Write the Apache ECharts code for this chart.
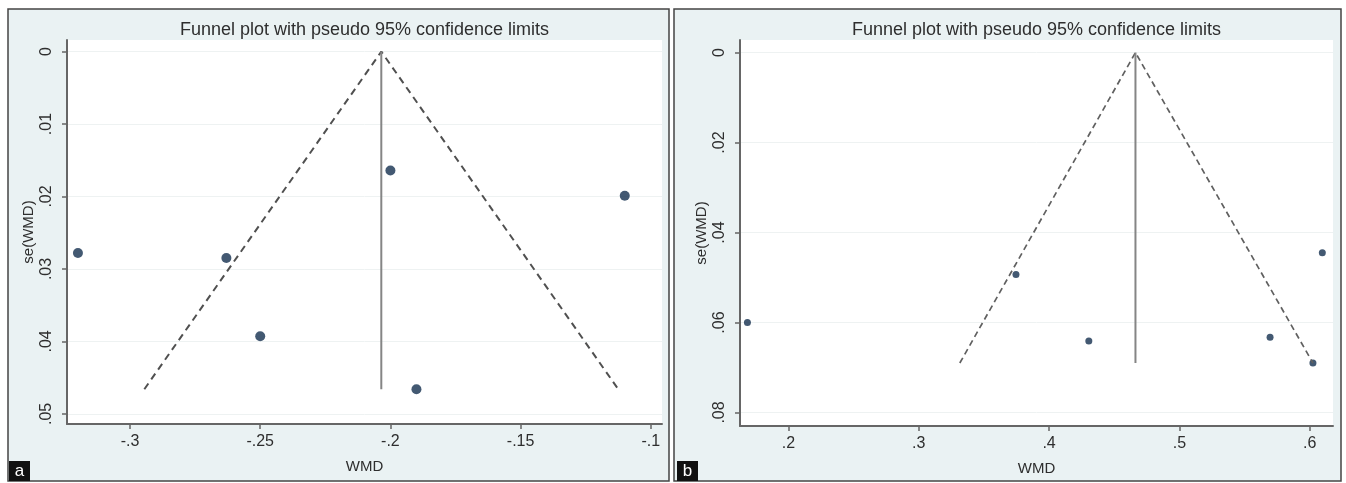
<!DOCTYPE html>
<html>
<head>
<meta charset="utf-8">
<script src="https://cdn.jsdelivr.net/npm/echarts@6/dist/echarts.min.js"></script>
<style>
html,body{margin:0;padding:0;background:#fff;}
#c{width:1346px;height:483px;}
</style>
</head>
<body>
<div id="c"></div>
<script>
// ---- Data ----
const titleText = 'Funnel plot with pseudo 95% confidence limits';

// Panel a
const aWMD = [-0.320, -0.263, -0.250, -0.200, -0.190, -0.110];
const aSE  = [0.0278, 0.0285, 0.0393, 0.0164, 0.0466, 0.0199];
const aPooled = -0.2035;
const aSEmax = 0.0466;
const aLower = -0.2945;
const aUpper = -0.1125;
const aXTicks = [-0.3, -0.25, -0.2, -0.15, -0.1];
const aXLabels = ['-.3', '-.25', '-.2', '-.15', '-.1'];
const aYTicks = [0, 0.01, 0.02, 0.03, 0.04, 0.05];
const aYLabels = ['0', '.01', '.02', '.03', '.04', '.05'];

// Panel b
const bWMD = [0.1685, 0.3746, 0.4305, 0.5696, 0.6025, 0.6097];
const bSE  = [0.0600, 0.0493, 0.0641, 0.0633, 0.0690, 0.0445];
const bPooled = 0.4663;
const bSEmax = 0.0690;
const bLower = 0.3315;
const bUpper = 0.6025;
const bXTicks = [0.2, 0.3, 0.4, 0.5, 0.6];
const bXLabels = ['.2', '.3', '.4', '.5', '.6'];
const bYTicks = [0, 0.02, 0.04, 0.06, 0.08];
const bYLabels = ['0', '.02', '.04', '.06', '.08'];

const xTitle = 'WMD';
const yTitle = 'se(WMD)';
const panelLabels = ['a', 'b'];

// ---- Styling ----
const FONT = '"Liberation Sans", Arial, Helvetica, sans-serif';
const PANEL_BG = '#eaf2f3';
const AXIS_COL = '#666666';
const TXT_COL = '#2e2e2e';
const DOT_COL = '#14304f';

function fmt(ticks, labels) {
  return function (v) {
    for (let i = 0; i < ticks.length; i++) {
      if (Math.abs(ticks[i] - v) < 1e-9) return labels[i];
    }
    return '';
  };
}

function xAxisCfg(gridIndex, min, max, ticks, labels) {
  return {
    gridIndex, type: 'value', min, max,
    name: xTitle, nameLocation: 'middle', nameGap: 35,
    nameTextStyle: { color: TXT_COL, fontFamily: FONT, fontSize: 15 },
    axisLine: { show: true, onZero: false, lineStyle: { color: AXIS_COL, width: 2 } },
    axisTick: { show: true, length: 5, customValues: ticks, lineStyle: { color: AXIS_COL, width: 1.5 } },
    axisLabel: { customValues: ticks, formatter: fmt(ticks, labels), margin: 10, color: TXT_COL, fontFamily: FONT, fontSize: 16 },
    splitLine: { show: false }
  };
}
function yAxisCfg(gridIndex, min, max, ticks, labels) {
  return {
    gridIndex, type: 'value', min, max, inverse: true,
    name: yTitle, nameLocation: 'middle', nameGap: 31, nameRotate: 90,
    nameTextStyle: { color: TXT_COL, fontFamily: FONT, fontSize: 15 },
    axisLine: { show: true, onZero: false, lineStyle: { color: AXIS_COL, width: 2 } },
    axisTick: { show: true, length: 5, customValues: ticks, lineStyle: { color: AXIS_COL, width: 1.5 } },
    axisLabel: { customValues: ticks, formatter: fmt(ticks, labels), rotate: 90, margin: 12, color: TXT_COL, fontFamily: FONT, fontSize: 16 },
    splitLine: { show: true, lineStyle: { color: '#eef2f2', width: 1 } }
  };
}

function pts(xs, ys) { return xs.map((x, i) => [x, ys[i]]); }

const chart = echarts.init(document.getElementById('c'));
const option = {
  animation: false,
  backgroundColor: '#ffffff',
  grid: [
    { left: 67, top: 40, width: 595, height: 384, show: true, backgroundColor: '#ffffff', borderWidth: 0 },
    { left: 740, top: 40, width: 593, height: 386, show: true, backgroundColor: '#ffffff', borderWidth: 0 }
  ],
  xAxis: [
    xAxisCfg(0, -0.3242, -0.0957, aXTicks, aXLabels),
    xAxisCfg(1, 0.1628, 0.6179, bXTicks, bXLabels)
  ],
  yAxis: [
    yAxisCfg(0, -0.0016, 0.0514, aYTicks, aYLabels),
    yAxisCfg(1, -0.0028, 0.0830, bYTicks, bYLabels)
  ],
  graphic: [
    { type: 'rect', z: -10, shape: { x: 8, y: 9, width: 661, height: 472 }, style: { fill: PANEL_BG, stroke: '#444', lineWidth: 1.5 } },
    { type: 'rect', z: -10, shape: { x: 674, y: 9, width: 667, height: 472 }, style: { fill: PANEL_BG, stroke: '#444', lineWidth: 1.5 } },
    { type: 'text', x: 364.5, y: 30, style: { text: titleText, fill: TXT_COL, font: '18px ' + FONT, textAlign: 'center', textVerticalAlign: 'middle' } },
    { type: 'text', x: 1036.5, y: 30, style: { text: titleText, fill: TXT_COL, font: '18px ' + FONT, textAlign: 'center', textVerticalAlign: 'middle' } },
    { type: 'rect', z: 10, shape: { x: 9, y: 461, width: 21, height: 20 }, style: { fill: '#111' } },
    { type: 'text', z: 11, x: 19.5, y: 471, style: { text: panelLabels[0], fill: '#fff', font: '17px ' + FONT, textAlign: 'center', textVerticalAlign: 'middle' } },
    { type: 'rect', z: 10, shape: { x: 677, y: 461, width: 21, height: 20 }, style: { fill: '#111' } },
    { type: 'text', z: 11, x: 687.5, y: 471, style: { text: panelLabels[1], fill: '#fff', font: '17px ' + FONT, textAlign: 'center', textVerticalAlign: 'middle' } }
  ],
  series: [
    { type: 'line', xAxisIndex: 0, yAxisIndex: 0, symbol: 'none', silent: true,
      data: [[aLower, aSEmax], [aPooled, 0], [aUpper, aSEmax]],
      lineStyle: { color: '#505050', width: 2, type: [7, 5] } },
    { type: 'line', xAxisIndex: 0, yAxisIndex: 0, symbol: 'none', silent: true,
      data: [[aPooled, 0], [aPooled, aSEmax]],
      lineStyle: { color: '#858585', width: 2 } },
    { type: 'scatter', xAxisIndex: 0, yAxisIndex: 0, symbolSize: 10,
      itemStyle: { color: DOT_COL }, data: pts(aWMD, aSE) },
    { type: 'line', xAxisIndex: 1, yAxisIndex: 1, symbol: 'none', silent: true,
      data: [[bLower, bSEmax], [bPooled, 0], [bUpper, bSEmax]],
      lineStyle: { color: '#606060', width: 1.7, type: [6, 4] } },
    { type: 'line', xAxisIndex: 1, yAxisIndex: 1, symbol: 'none', silent: true,
      data: [[bPooled, 0], [bPooled, bSEmax]],
      lineStyle: { color: '#858585', width: 2 } },
    { type: 'scatter', xAxisIndex: 1, yAxisIndex: 1, symbolSize: 7,
      itemStyle: { color: DOT_COL }, data: pts(bWMD, bSE) }
  ]
};
chart.setOption(option);
</script>
</body>
</html>
